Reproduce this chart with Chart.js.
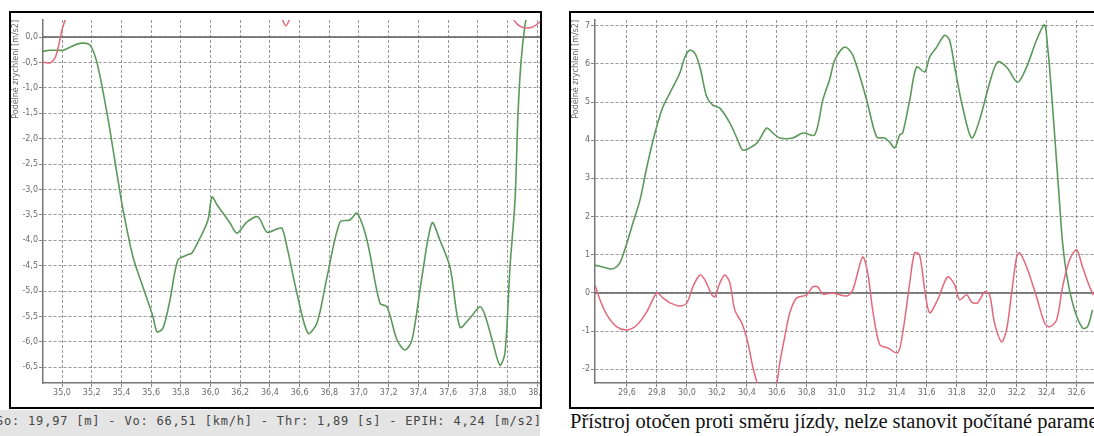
<!DOCTYPE html>
<html>
<head>
<meta charset="utf-8">
<script src="https://cdn.jsdelivr.net/npm/chart.js@4"></script>
<style>
	body { margin: 0; width: 1094px; height: 436px; overflow: hidden; background: #fff; position: relative; }
	.box { position: absolute; top: 11px; height: 394px; border: 2px solid #000; background: #fff; }
	#leftBox { left: 9px; width: 529px; }
	#rightBox { left: 569px; width: 540px; }
	.info { position: absolute; left: 0; top: 410px; width: 540px; height: 26px; background: #e4e4e4;
		font: 12px "DejaVu Sans Mono"; letter-spacing: 0.8px; color: #444; line-height: 22px;
		white-space: nowrap; overflow: hidden; text-indent: -4px; }
	.note { position: absolute; left: 570px; top: 410px; font: 20.5px "Liberation Serif"; color: #111; white-space: nowrap; }
</style>
</head>
<body>
<div class="box" id="leftBox"><canvas id="leftChart" width="529" height="394"></canvas></div>
<div class="box" id="rightBox"><canvas id="rightChart" width="540" height="394"></canvas></div>
<div class="info">So: 19,97 [m] - Vo: 66,51 [km/h] - Thr: 1,89 [s] - EPIH: 4,24 [m/s2]</div>
<div class="note">Přístroj otočen proti směru jízdy, nelze stanovit počítané parametry</div>
<script>
// left chart - position [km], acceleration [m/s2]
const leftGreenPos = [34.872, 34.919, 35.007, 35.054, 35.101, 35.141, 35.189, 35.236, 35.303, 35.343, 35.391, 35.411,
	35.478, 35.545, 35.613, 35.640, 35.680, 35.727, 35.781, 35.842, 35.875, 35.929, 35.983, 36.010, 36.044, 36.131,
	36.178, 36.246, 36.320, 36.380, 36.448, 36.481, 36.515, 36.582, 36.657, 36.717, 36.785, 36.872, 36.939, 36.987,
	37.054, 37.141, 37.189, 37.256, 37.310, 37.357, 37.424, 37.492, 37.545, 37.613, 37.680, 37.748, 37.815, 37.848,
	37.902, 37.949, 37.983, 38.017, 38.051, 38.071, 38.091, 38.118, 38.138];
const leftGreenVal = [-0.28, -0.26, -0.26, -0.20, -0.14, -0.12, -0.16, -0.51, -1.50, -2.20, -3.07, -3.40,
	-4.33, -4.92, -5.51, -5.80, -5.73, -5.18, -4.39, -4.29, -4.25, -3.96, -3.60, -3.15, -3.30, -3.66,
	-3.86, -3.64, -3.54, -3.84, -3.78, -3.76, -4.13, -5.04, -5.83, -5.63, -4.72, -3.64, -3.60, -3.47,
	-4.00, -5.24, -5.31, -5.96, -6.16, -5.96, -4.72, -3.66, -4.00, -4.53, -5.71, -5.53, -5.31, -5.47,
	-6.02, -6.46, -6.22, -4.53, -3.20, -1.50, -0.50, 0.24, 0.50];
const leftRedPos = [34.872, 34.919, 34.953, 34.973, 35.000, 35.020, 35.040, 35.500,
	36.461, 36.481, 36.508, 36.535, 36.556, 37.000,
	38.017, 38.037, 38.071, 38.118, 38.172, 38.219];
const leftRedVal = [-0.49, -0.51, -0.41, -0.22, 0.14, 0.33, 0.55, null,
	0.55, 0.37, 0.22, 0.37, 0.55, null,
	0.55, 0.37, 0.24, 0.18, 0.20, 0.30];

// right chart
const rightGreenPos = [29.387, 29.467, 29.507, 29.553, 29.600, 29.640, 29.687, 29.733, 29.787, 29.840, 29.887, 29.953,
	29.987, 30.020, 30.053, 30.087, 30.133, 30.173, 30.220, 30.287, 30.340, 30.373, 30.420, 30.473, 30.533, 30.573,
	30.620, 30.707, 30.773, 30.853, 30.907, 30.953, 30.987, 31.053, 31.107, 31.200, 31.267, 31.320, 31.353, 31.387,
	31.420, 31.440, 31.487, 31.533, 31.587, 31.620, 31.667, 31.720, 31.753, 31.787, 31.840, 31.900, 31.953, 32.020,
	32.073, 32.133, 32.207, 32.267, 32.333, 32.387, 32.407, 32.420, 32.453, 32.487, 32.507, 32.540, 32.587, 32.640,
	32.673, 32.707];
const rightGreenVal = [0.73, 0.65, 0.63, 0.79, 1.31, 1.83, 2.43, 3.30, 4.19, 4.87, 5.24, 5.76,
	6.18, 6.36, 6.28, 5.92, 5.13, 4.92, 4.84, 4.45, 4.00, 3.74, 3.80, 3.95, 4.32, 4.19,
	4.06, 4.06, 4.19, 4.14, 5.05, 5.60, 6.10, 6.44, 6.23, 5.05, 4.08, 4.06, 3.95, 3.80,
	4.14, 4.19, 5.05, 5.92, 5.79, 6.18, 6.44, 6.75, 6.62, 5.92, 4.87, 4.06, 4.53, 5.50,
	6.05, 5.92, 5.52, 5.92, 6.62, 7.02, 6.44, 5.92, 4.19, 2.35, 1.31, 0.34, -0.45, -0.92,
	-0.89, -0.45];
const rightRedPos = [29.387, 29.420, 29.467, 29.533, 29.600, 29.667, 29.733, 29.800, 29.840, 29.887, 29.953, 30.000,
	30.040, 30.087, 30.120, 30.167, 30.187, 30.220, 30.253, 30.287, 30.320, 30.367, 30.407, 30.440, 30.467, 30.500,
	30.567, 30.600, 30.620, 30.653, 30.687, 30.733, 30.800, 30.840, 30.873, 30.907, 30.973, 31.067, 31.107, 31.173,
	31.207, 31.240, 31.287, 31.340, 31.407, 31.440, 31.487, 31.520, 31.553, 31.587, 31.620, 31.673, 31.740, 31.787,
	31.820, 31.867, 31.900, 31.940, 31.987, 32.020, 32.053, 32.100, 32.133, 32.167, 32.200, 32.220, 32.267, 32.333,
	32.387, 32.420, 32.467, 32.507, 32.553, 32.600, 32.640, 32.687, 32.713];
const rightRedVal = [0.21, -0.18, -0.58, -0.89, -0.97, -0.84, -0.49, 0.00, -0.13, -0.26, -0.34, -0.26,
	0.16, 0.47, 0.34, -0.05, -0.10, 0.26, 0.47, 0.26, -0.45, -0.79, -1.31, -1.94, -2.33, -2.70,
	-2.70, -2.36, -1.83, -1.15, -0.52, -0.13, -0.05, 0.16, 0.16, -0.03, 0.00, -0.08, 0.08, 0.94,
	0.52, -0.45, -1.36, -1.44, -1.57, -1.05, 0.26, 1.05, 0.99, 0.08, -0.52, -0.18, 0.42, 0.21,
	-0.18, -0.05, -0.24, -0.26, 0.03, -0.05, -0.79, -1.28, -0.97, 0.00, 0.94, 1.05, 0.68, -0.10,
	-0.79, -0.89, -0.71, 0.16, 0.86, 1.13, 0.68, 0.16, -0.05];

const leftXRange = [34.872, 38.219];
const leftYRange = [-6.81, 0.335];
const rightXRange = [29.387, 32.83];
const rightYRange = [-2.36, 7.15];
const yTitle = 'Podélné zrychlení [m/s2]';

Chart.defaults.font.family = 'DejaVu Sans';
Chart.defaults.font.size = 8;
Chart.defaults.color = '#6a6a6a';

function toPoints(pos, vals) {
	return pos.map((x, i) => ({ x: x, y: vals[i] }));
}

function comma(digits) {
	return (v) => Number(v).toFixed(digits).replace('.', ',');
}

// no label right on the y axis line
function dropFirstTick(scale) {
	scale.ticks = scale.ticks.filter((t) => t.value - scale.min > 0.05);
}

const zeroLine = {
	id: 'zeroLine',
	beforeDatasetsDraw(chart) {
		const area = chart.chartArea;
		const y = chart.scales.y.getPixelForValue(0);
		const ctx = chart.ctx;
		ctx.save();
		ctx.strokeStyle = '#5c5c5c';
		ctx.lineWidth = 1.5;
		ctx.beginPath();
		ctx.moveTo(area.left, y);
		ctx.lineTo(area.right, y);
		ctx.stroke();
		ctx.restore();
	}
};

function initChart(id, green, red, xRange, yRange, yStep, yDigits, yWidth) {
	const ctx = document.getElementById(id);
	return new Chart(ctx, {
		type: 'line',
		data: {
			datasets: [
				{ data: red, borderColor: '#e3687a', borderWidth: 1.5, pointRadius: 0, tension: 0.3, fill: false },
				{ data: green, borderColor: '#5b995b', borderWidth: 1.6, pointRadius: 0, tension: 0.3, fill: false }
			]
		},
		options: {
			responsive: false,
			animation: false,
			layout: { padding: { top: 7, left: 0, right: 0, bottom: 0 } },
			plugins: { legend: { display: false }, tooltip: { enabled: false } },
			scales: {
				x: {
					type: 'linear',
					min: xRange[0],
					max: xRange[1],
					afterBuildTicks: dropFirstTick,
					afterFit: (scale) => { scale.height = 24; scale.paddingLeft = 0; scale.paddingRight = 0; },
					grid: { color: 'rgba(85,85,85,0.6)', tickLength: 4, tickColor: '#888' },
					border: { color: '#777', width: 1.5, dash: [3, 2] },
					ticks: { stepSize: 0.2, includeBounds: false, autoSkip: false, maxRotation: 0, padding: 1, callback: comma(1) }
				},
				y: {
					min: yRange[0],
					max: yRange[1],
					afterFit: (scale) => { scale.width = yWidth; scale.paddingTop = 0; scale.paddingBottom = 0; },
					title: { display: true, text: yTitle, align: 'end', padding: 0, font: { size: 8 } },
					grid: { color: 'rgba(85,85,85,0.6)', tickLength: 4, tickColor: '#888' },
					border: { color: '#777', width: 1.5, dash: [3, 2] },
					ticks: { stepSize: yStep, includeBounds: false, padding: 1, callback: comma(yDigits) }
				}
			}
		},
		plugins: [zeroLine]
	});
}

document.addEventListener('DOMContentLoaded', () => {
	initChart('leftChart', toPoints(leftGreenPos, leftGreenVal), toPoints(leftRedPos, leftRedVal),
		leftXRange, leftYRange, 0.5, 1, 32);
	initChart('rightChart', toPoints(rightGreenPos, rightGreenVal), toPoints(rightRedPos, rightRedVal),
		rightXRange, rightYRange, 1, 0, 24);
});
</script>
</body>
</html>
